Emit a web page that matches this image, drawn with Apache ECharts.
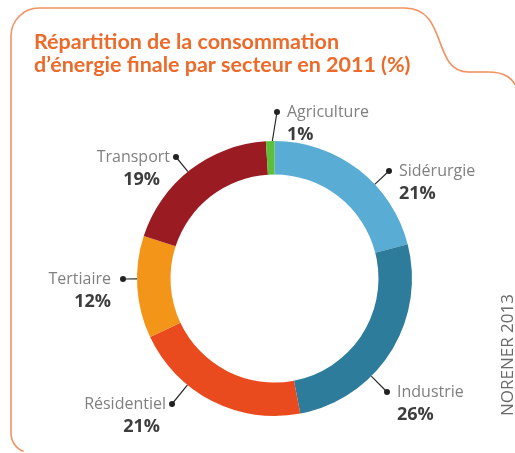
<!DOCTYPE html>
<html><head><meta charset="utf-8">
<script src="https://cdn.jsdelivr.net/npm/echarts@6/dist/echarts.min.js"></script>
<style>html,body{margin:0;padding:0;background:#fff}#c{width:515px;height:453px}</style>
</head><body><div id="c"></div>
<script>
// ---- data ----
const categories = ['Sidérurgie', 'Industrie', 'Résidentiel', 'Tertiaire', 'Transport', 'Agriculture'];
const values = [21, 26, 21, 12, 19, 1];
const titleLines = ['Répartition de la consommation', 'd’énergie finale par secteur en 2011 (%)'];
const sourceText = 'NORENER 2013';

// ---- styles / layout ----
const palette = ['#59acd4', '#2e7c9b', '#ea4b1e', '#f39519', '#9b1b23', '#5cbf3a'];
const CENTER = [274.5, 278.5], R_IN = 104, R_OUT = 137.5;
const placement = [
  { x: 389, y: 171, side: 'right', gap: 7, indent: 0 },
  { x: 387, y: 392, side: 'right', gap: 7, indent: 0 },
  { x: 172, y: 404, side: 'left', gap: 3, indent: 6 },
  { x: 123, y: 279, side: 'left', gap: 9, indent: 0 },
  { x: 176, y: 157, side: 'left', gap: 3, indent: 10 },
  { x: 277, y: 112, side: 'right', gap: 7, indent: 0 }
];
const LH = 23, DOT = 6;
const FONT = 'Open Sans';
const rich = {
  dot: { width: DOT, height: DOT, borderRadius: DOT / 2, backgroundColor: '#222', lineHeight: LH },
  name: { fontFamily: FONT, fontSize: 16, color: '#808080', lineHeight: LH },
  pct: { fontFamily: FONT, fontSize: 18, fontWeight: 'bold', color: '#3d3d3d', lineHeight: LH }
};
placement.forEach((p, i) => {
  rich['g' + i] = { width: p.gap, lineHeight: LH };
  rich['s' + i] = { width: DOT + p.gap + p.indent, lineHeight: LH };
});

// slice angular ranges (clockwise from 12 o'clock), derived from the values
const total = values.reduce((a, b) => a + b, 0);
const sliceRange = [];
values.reduce((acc, v) => { sliceRange.push([acc / total * 360, (acc + v) / total * 360]); return acc + v; }, 0);

function leaderPoints(i) {
  const pl = placement[i];
  const dx = pl.x - CENTER[0], dy = pl.y - CENTER[1];
  const phi = Math.atan2(dx, -dy) * 180 / Math.PI;
  const [a0, a1] = sliceRange[i];
  const mid = (a0 + a1) / 2, half = (a1 - a0) / 2;
  let d = ((phi - mid + 540) % 360) - 180;
  const lim = half * 0.5;
  d = Math.max(-lim, Math.min(lim, d));
  const ang = (mid + d) * Math.PI / 180;
  const sx = CENTER[0] + R_OUT * Math.sin(ang), sy = CENTER[1] - R_OUT * Math.cos(ang);
  return [[sx, sy], [pl.x, pl.y], [pl.x, pl.y]];
}

const chart = echarts.init(document.getElementById('c'), null, { renderer: 'canvas' });
const border = '#f19262';
const bw = 1.6;
chart.setOption({
  animation: false,
  backgroundColor: '#fff',
  title: {
    text: titleLines.join('\n'), left: 29, top: 26,
    textStyle: { fontFamily: 'Lato', fontSize: 21.5, fontWeight: 'bold', color: '#ec6a2a', lineHeight: 23 }
  },
  graphic: [
    { type: 'arc', shape: { cx: 31, cy: 433, r: 20, startAngle: Math.PI * 0.62, endAngle: Math.PI }, style: { stroke: border, lineWidth: bw, fill: null } },
    { type: 'polyline', shape: { points: [[11, 433], [11, 36]] }, style: { stroke: border, lineWidth: bw, fill: null } },
    { type: 'arc', shape: { cx: 39, cy: 36, r: 28, startAngle: Math.PI, endAngle: Math.PI * 1.5 }, style: { stroke: border, lineWidth: bw, fill: null } },
    { type: 'line', shape: { x1: 39, y1: 8, x2: 405, y2: 8 }, style: { stroke: border, lineWidth: bw } },
    { type: 'bezierCurve', shape: { x1: 405, y1: 8, cpx1: 448, cpy1: 8, cpx2: 432, cpy2: 72, x2: 468, y2: 72 }, style: { stroke: border, lineWidth: bw, fill: null } },
    { type: 'line', shape: { x1: 468, y1: 72, x2: 488, y2: 72 }, style: { stroke: border, lineWidth: bw } },
    { type: 'bezierCurve', shape: { x1: 488, y1: 72, cpx1: 505, cpy1: 72, cpx2: 513, cpy2: 78, x2: 518, y2: 90 }, style: { stroke: border, lineWidth: bw, fill: null } },
    { type: 'text', x: 508, y: 355, rotation: Math.PI / 2,
      style: { text: sourceText, fontFamily: FONT, fontSize: 17, fill: '#6a6a6a', align: 'center', verticalAlign: 'middle' } }
  ],
  series: [{
    type: 'pie',
    center: CENTER,
    radius: [R_IN, R_OUT],
    startAngle: 90,
    clockwise: true,
    avoidLabelOverlap: false,
    itemStyle: { borderWidth: 0 },
    data: categories.map((c, i) => ({ name: c, value: values[i], itemStyle: { color: palette[i] } })),
    label: {
      show: true,
      position: 'outside',
      padding: [LH, 0, 0, 0],
      rich: rich,
      formatter: (p) => {
        const i = p.dataIndex, pl = placement[i];
        if (pl.side === 'right') {
          return '{dot|}{g' + i + '|}{name|' + p.name + '}\n{s' + i + '|}{pct|' + p.value + '%}';
        }
        return '{name|' + p.name + '}{g' + i + '|}{dot|}\n{pct|' + p.value + '%}{s' + i + '|}';
      }
    },
    labelLine: { show: true, length: 0, length2: 0, lineStyle: { color: '#2a2a2a', width: 1.2 } },
    labelLayout: (params) => {
      const i = params.dataIndex, pl = placement[i];
      return {
        x: pl.side === 'right' ? pl.x - DOT / 2 : pl.x + DOT / 2,
        y: pl.y,
        align: pl.side === 'right' ? 'left' : 'right',
        verticalAlign: 'middle',
        labelLinePoints: leaderPoints(i)
      };
    }
  }]
});
</script></body></html>
